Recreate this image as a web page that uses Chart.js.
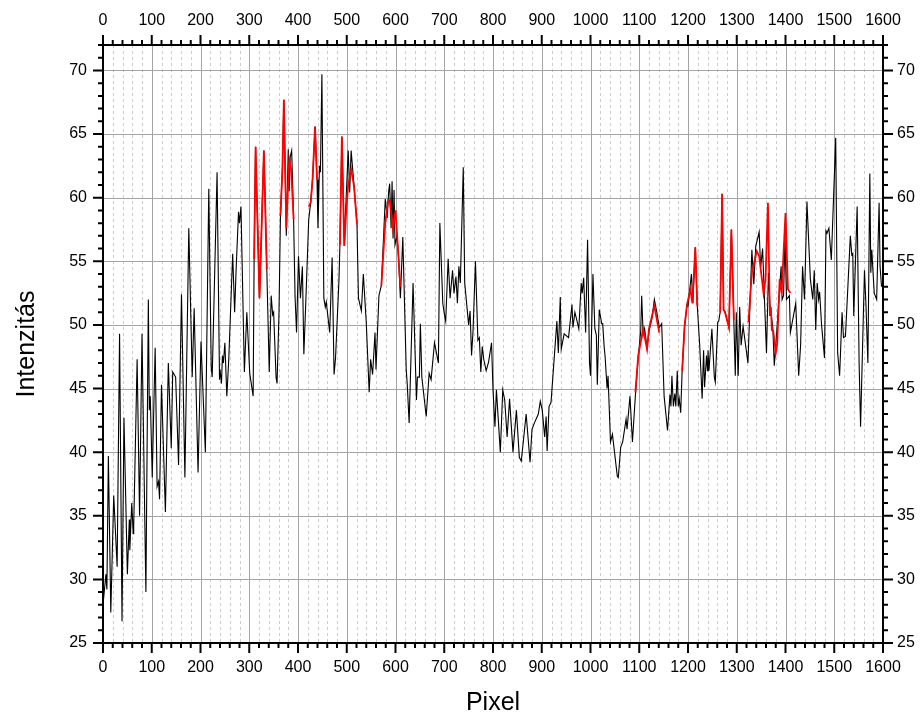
<!DOCTYPE html>
<html>
<head>
<meta charset="utf-8">
<script src="https://cdn.jsdelivr.net/npm/chart.js@4/dist/chart.umd.min.js"></script>
<style>
  body { margin: 0; background: #fff; }
  #wrap { width: 924px; height: 718px; }
</style>
</head>
<body>
<div id="wrap"><canvas id="spectrum" width="924" height="718"></canvas></div>
<script>
/* ======================
   DATA
====================== */
const pixelX = [
    1, 6, 8, 11, 16, 22, 29, 34, 39, 43, 50, 54, 55, 59, 62, 63, 70, 75, 80, 88,
    93, 95, 97, 101, 107, 111, 114, 116, 120, 128, 134, 140, 143, 149, 155, 161, 168, 176, 183, 187,
    195, 201, 210, 217, 222, 224, 234, 239, 240, 243, 245, 247, 250, 254, 258, 266, 270, 273, 278, 280,
    283, 290, 295, 301, 308, 310, 313, 321, 330, 336, 341, 345, 348, 350, 355, 357, 361, 364, 368, 371,
    376, 380, 382, 384, 387, 391, 394, 397, 401, 405, 409, 412, 416, 422, 426, 430, 435, 439, 441, 444,
    446, 449, 453, 456, 458, 465, 470, 474, 477, 484, 486, 490, 495, 497, 503, 506, 509, 515, 521, 524,
    530, 534, 540, 546, 549, 553, 558, 560, 566, 571, 579, 583, 586, 588, 591, 593, 595, 597, 599, 603,
    606, 610, 615, 622, 624, 628, 636, 643, 645, 649, 651, 654, 663, 669, 673, 680, 688, 691, 697, 700,
    703, 708, 712, 717, 720, 724, 727, 730, 733, 739, 742, 750, 753, 756, 759, 764, 769, 772, 775, 778,
    781, 786, 791, 797, 800, 804, 807, 815, 820, 824, 829, 834, 841, 848, 854, 858, 868, 876, 880, 885,
    893, 897, 901, 906, 909, 911, 915, 919, 931, 934, 938, 940, 946, 955, 962, 964, 968, 973, 976, 981,
    983, 986, 990, 994, 998, 1000, 1005, 1009, 1012, 1014, 1018, 1023, 1025, 1028, 1030, 1034, 1036, 1041, 1045, 1055,
    1057, 1062, 1066, 1073, 1075, 1081, 1086, 1092, 1098, 1103, 1105, 1108, 1111, 1116, 1120, 1126, 1131, 1136, 1141, 1146,
    1151, 1158, 1163, 1165, 1167, 1170, 1173, 1175, 1178, 1180, 1182, 1185, 1188, 1193, 1198, 1200, 1207, 1210, 1215, 1219,
    1224, 1229, 1232, 1234, 1238, 1240, 1241, 1243, 1249, 1254, 1256, 1261, 1263, 1266, 1270, 1273, 1276, 1284, 1289, 1294,
    1297, 1299, 1303, 1306, 1309, 1313, 1323, 1331, 1335, 1339, 1346, 1349, 1353, 1361, 1365, 1368, 1374, 1377, 1383, 1391,
    1393, 1396, 1399, 1402, 1408, 1410, 1421, 1427, 1431, 1435, 1439, 1444, 1448, 1451, 1456, 1459, 1462, 1465, 1468, 1470,
    1474, 1480, 1483, 1485, 1489, 1494, 1503, 1507, 1511, 1516, 1519, 1523, 1533, 1536, 1538, 1540, 1547, 1551, 1554, 1562,
    1565, 1569, 1573, 1575, 1577, 1582, 1587, 1592, 1594, 1597
];
const intensity = [
    28.4, 30.4, 29.2, 39.7, 27.4, 36.6, 31.0, 49.3, 26.7, 42.7, 30.4, 34.7, 32.3, 36.0, 33.6, 34.2, 47.3, 35.0, 49.3, 29.0,
    52.0, 43.3, 44.4, 38.0, 48.2, 37.3, 37.7, 36.3, 45.3, 35.3, 47.0, 40.3, 46.3, 45.9, 39.0, 52.4, 38.0, 57.6, 45.9, 51.3,
    38.4, 48.7, 40.0, 60.7, 46.7, 45.9, 62.0, 45.7, 46.5, 45.4, 47.6, 47.0, 48.6, 44.4, 47.3, 55.6, 51.0, 54.3, 58.9, 58.0,
    59.3, 46.3, 51.0, 46.2, 44.4, 55.2, 64.0, 52.1, 63.7, 54.4, 46.3, 52.3, 50.8, 51.0, 45.9, 45.4, 50.9, 58.6, 62.2, 67.7,
    57.0, 63.8, 60.5, 63.2, 63.7, 58.3, 52.2, 49.4, 55.4, 52.1, 54.6, 47.7, 51.8, 58.3, 59.6, 61.5, 65.6, 61.4, 57.6, 62.5,
    62.0, 69.7, 52.1, 51.4, 51.8, 49.4, 55.3, 46.1, 47.4, 53.5, 56.3, 64.8, 56.2, 58.4, 63.7, 60.4, 63.7, 60.9, 57.9, 52.1,
    51.1, 54.0, 50.2, 44.7, 47.3, 46.1, 49.4, 46.5, 52.3, 53.1, 59.9, 58.4, 60.5, 61.1, 57.6, 61.3, 56.8, 60.6, 56.3, 57.0,
    55.5, 52.1, 56.9, 46.5, 45.4, 42.3, 53.3, 44.1, 45.9, 45.9, 50.1, 45.9, 42.8, 46.2, 45.7, 48.6, 47.0, 58.0, 51.7, 50.9,
    50.3, 55.2, 52.1, 54.3, 52.5, 53.8, 51.7, 54.6, 53.3, 62.4, 53.3, 50.0, 51.1, 47.6, 49.5, 55.0, 48.8, 49.0, 46.3, 48.3,
    47.3, 46.4, 47.1, 48.6, 44.9, 42.0, 44.9, 40.0, 44.9, 44.1, 41.2, 44.2, 40.0, 43.3, 39.6, 39.3, 43.0, 39.2, 41.8, 42.3,
    43.0, 44.0, 43.3, 41.2, 42.8, 40.1, 43.6, 43.9, 50.3, 47.8, 52.2, 48.1, 49.3, 49.0, 51.6, 49.8, 51.0, 50.2, 49.7, 53.3,
    52.5, 53.7, 49.4, 56.7, 47.0, 46.0, 54.0, 49.7, 49.2, 45.3, 51.2, 50.1, 50.1, 48.3, 47.5, 45.0, 46.0, 40.8, 41.4, 38.1,
    38.0, 40.4, 40.8, 42.6, 41.8, 44.4, 40.8, 44.4, 47.5, 49.5, 52.3, 49.2, 49.7, 48.2, 49.5, 50.5, 52.0, 51.0, 49.8, 50.1,
    44.4, 41.7, 44.5, 43.6, 46.0, 43.6, 44.6, 43.6, 46.4, 43.6, 44.2, 43.1, 46.4, 49.9, 51.6, 51.5, 54.0, 51.7, 56.1, 51.5,
    48.4, 44.2, 48.0, 45.1, 47.6, 46.4, 48.0, 46.4, 49.7, 45.9, 45.5, 50.2, 50.3, 51.0, 60.3, 51.2, 51.0, 49.8, 57.5, 50.4,
    46.0, 51.0, 46.0, 51.4, 48.4, 49.9, 47.0, 55.9, 53.2, 56.2, 57.3, 54.5, 56.0, 47.8, 54.1, 51.6, 49.8, 46.8, 50.0, 54.6,
    52.0, 52.3, 57.0, 52.0, 52.3, 49.4, 51.7, 46.0, 48.4, 54.6, 52.0, 59.7, 56.2, 53.6, 52.0, 54.3, 49.6, 53.3, 52.0, 52.6,
    50.0, 47.4, 57.4, 57.2, 57.6, 55.1, 64.7, 47.8, 46.0, 51.0, 49.0, 49.1, 57.0, 55.5, 55.6, 50.7, 59.3, 47.0, 42.0, 54.3,
    51.6, 47.0, 61.9, 54.1, 55.9, 52.5, 52.0, 59.6, 54.6, 53.0
];

// red highlighted peaks (null = break between segments)
const redX = [
    310, 313, 321, 330, 336, 337,
    364, 368, 371, 376, 382, 386, 391, 392,
    422, 426, 430, 435, 439, 440,
    486, 490, 495, 499, 503, 509, 515, 521, 522,
    571, 579, 585, 588, 595, 600, 610, 611,
    1092, 1098, 1108, 1116, 1120, 1131, 1141, 1142,
    1188, 1193, 1198, 1205, 1209, 1215, 1219, 1220,
    1266, 1270, 1273, 1276, 1284, 1289, 1294, 1295,
    1324, 1331, 1341, 1346, 1355, 1359, 1364, 1368, 1370, 1372, 1375, 1380, 1383, 1388, 1392, 1400, 1405, 1410
];
const redY = [
    55.2, 64.0, 52.1, 63.7, 54.4, null,
    58.6, 62.2, 67.7, 57.6, 63.0, 62.2, 58.3, null,
    59.3, 59.6, 61.5, 65.6, 61.4, null,
    56.3, 64.8, 56.2, 59.0, 61.0, 62.2, 60.9, 57.9, null,
    53.1, 58.0, 59.8, 59.8, 57.6, 59.0, 53.0, null,
    44.7, 47.6, 49.7, 48.1, 49.7, 51.5, 49.4, null,
    46.4, 49.9, 51.6, 52.8, 51.7, 56.1, 51.5, null,
    51.0, 60.3, 51.2, 51.0, 49.8, 57.5, 50.4, null,
    50.2, 54.1, 55.8, 55.4, 52.5, 53.6, 59.6, 50.7, 51.4, 49.6, 49.5, 47.8, 48.5, 53.6, 52.5, 58.8, 52.8, 52.5
];

const xTicks = [0, 100, 200, 300, 400, 500, 600, 700, 800, 900, 1000, 1100, 1200, 1300, 1400, 1500, 1600];
const yTicks = [25, 30, 35, 40, 45, 50, 55, 60, 65, 70];

/* ======================
   FRAME, GRID AND TICKS
====================== */
const frame = {
    id: "frame",
    beforeDatasetsDraw(chart) {
        const { ctx, chartArea: a, scales: { x, y } } = chart;
        ctx.save();
        ctx.lineWidth = 1;
        // vertical grid: dashed minor every 20, solid major every 100
        for (let v = 20; v < 1600; v += 20) {
            const px = Math.round(x.getPixelForValue(v)) + 0.5;
            if (v % 100 === 0) {
                ctx.strokeStyle = "#a4a4a4";
                ctx.setLineDash([]);
            } else {
                ctx.strokeStyle = "#cccccc";
                ctx.setLineDash([3, 3]);
            }
            ctx.beginPath();
            ctx.moveTo(px, a.top);
            ctx.lineTo(px, a.bottom);
            ctx.stroke();
        }
        // horizontal grid at every label
        ctx.setLineDash([]);
        ctx.strokeStyle = "#a4a4a4";
        yTicks.forEach(v => {
            if (v === 25) return;
            const py = Math.round(y.getPixelForValue(v)) + 0.5;
            ctx.beginPath();
            ctx.moveTo(a.left, py);
            ctx.lineTo(a.right, py);
            ctx.stroke();
        });
        ctx.restore();
    },
    afterDatasetsDraw(chart) {
        const { ctx, chartArea: a, scales: { x, y } } = chart;
        ctx.save();
        ctx.strokeStyle = "#000";
        ctx.lineWidth = 2;
        ctx.strokeRect(a.left, a.top, a.right - a.left, a.bottom - a.top);
        ctx.beginPath();
        for (let v = 0; v <= 1600; v += 20) {
            const px = x.getPixelForValue(v);
            const len = v % 100 === 0 ? 10 : 5;
            ctx.moveTo(px, a.bottom);
            ctx.lineTo(px, a.bottom + len);
            ctx.moveTo(px, a.top);
            ctx.lineTo(px, a.top - len);
        }
        for (let v = 25; v <= 72; v += 1) {
            const py = y.getPixelForValue(v);
            const len = v % 5 === 0 ? 10 : 5;
            ctx.moveTo(a.left, py);
            ctx.lineTo(a.left - len, py);
            ctx.moveTo(a.right, py);
            ctx.lineTo(a.right + len, py);
        }
        ctx.stroke();
        ctx.restore();
    }
};

/* ======================
   CHART
====================== */
const font = { family: "Arial, 'Liberation Sans', sans-serif", size: 16 };
const titleFont = { family: "Arial, 'Liberation Sans', sans-serif", size: 25 };

function xAxis(position, size) {
    return {
        type: "linear",
        position: position,
        min: 0,
        max: 1600,
        afterBuildTicks: s => { s.ticks = xTicks.map(v => ({ value: v })); },
        afterFit: s => { s.height = size; },
        grid: { display: true, drawOnChartArea: false, drawTicks: false },
        border: { display: false },
        ticks: { font: font, color: "#000", padding: 15, autoSkip: false, maxRotation: 0, callback: v => String(v) }
    };
}

function yAxis(position, size) {
    return {
        type: "linear",
        position: position,
        min: 25,
        max: 72,
        afterBuildTicks: s => { s.ticks = yTicks.map(v => ({ value: v })); },
        afterFit: s => { s.width = size; },
        grid: { display: true, drawOnChartArea: false, drawTicks: false },
        border: { display: false },
        ticks: { font: font, color: "#000", padding: position === "left" ? 16 : 14, callback: v => String(v) }
    };
}

const scales = {
    x: xAxis("bottom", 75),
    x2: xAxis("top", 45),
    y: yAxis("left", 103),
    y2: yAxis("right", 41)
};
scales.x.title = { display: true, text: "Pixel", font: titleFont, color: "#000", padding: { top: 0, bottom: 0 } };
scales.y.title = { display: true, text: "Intenzitás", font: titleFont, color: "#000", padding: { top: 12, bottom: 0 } };

new Chart(document.getElementById("spectrum"), {
    type: "line",
    data: {
        datasets: [
            {
                label: "peaks",
                data: redX.map((v, i) => ({ x: v, y: redY[i] })),
                borderColor: "#ff0000",
                borderWidth: 1.8,
                pointRadius: 0,
                tension: 0,
                spanGaps: false,
                order: 0
            },
            {
                label: "Intenzitás",
                data: pixelX.map((v, i) => ({ x: v, y: intensity[i] })),
                borderColor: "#000000",
                borderWidth: 1.1,
                pointRadius: 0,
                tension: 0,
                order: 1
            }
        ]
    },
    options: {
        responsive: false,
        animation: false,
        layout: { padding: 0 },
        plugins: {
            legend: { display: false },
            tooltip: { enabled: false }
        },
        scales: scales
    },
    plugins: [frame]
});
</script>
</body>
</html>
